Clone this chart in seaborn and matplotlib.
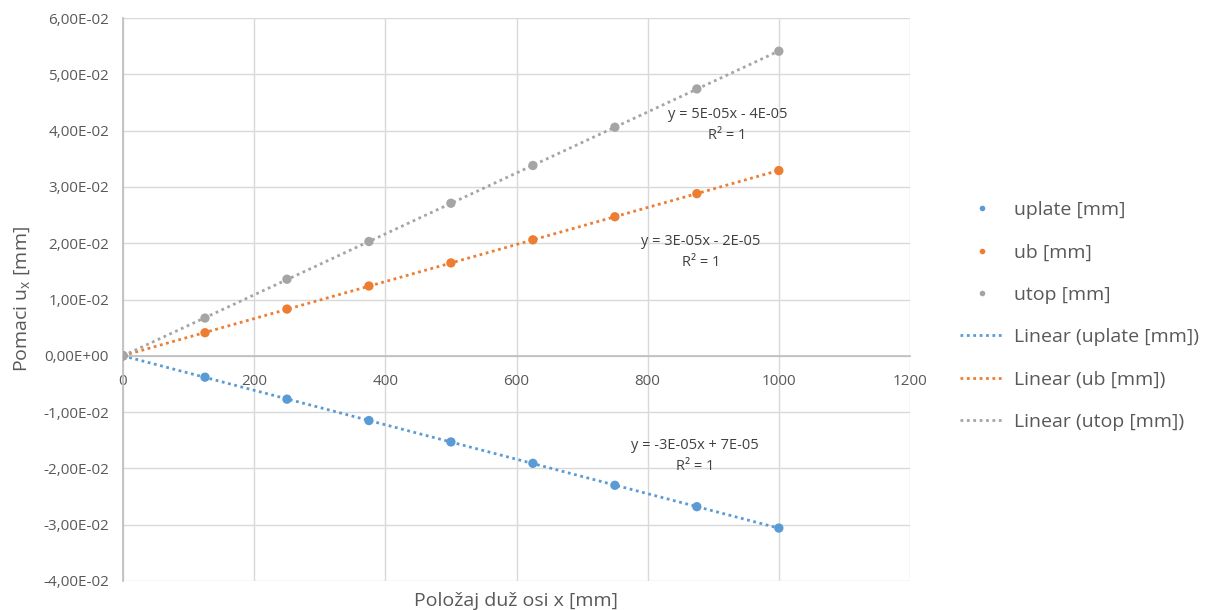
import numpy as np
import pandas as pd
import seaborn as sns
import matplotlib.pyplot as plt
from matplotlib.ticker import FuncFormatter, MultipleLocator

# Values
x_pos = [0, 125, 250, 375, 500, 625, 750, 875, 1000]
uplate = [0, -0.0038, -0.0077, -0.0115, -0.0153, -0.0191, -0.0230, -0.0268, -0.0306]
ub = [0, 0.0041, 0.0083, 0.0124, 0.0165, 0.0206, 0.0247, 0.0288, 0.0329]
utop = [0, 0.0067, 0.0136, 0.0203, 0.0271, 0.0338, 0.0406, 0.0474, 0.0541]

series_names = ["uplate [mm]", "ub [mm]", "utop [mm]"]
equations = ["y = -3E-05x + 7E-05\nR² = 1",
             "y = 3E-05x - 2E-05\nR² = 1",
             "y = 5E-05x - 4E-05\nR² = 1"]
eq_pos = [(872, -0.0178), (881, 0.0184), (922, 0.0410)]
colors = ["#5B9BD5", "#ED7D31", "#A5A5A5"]

df = pd.DataFrame({"x": x_pos, "uplate [mm]": uplate, "ub [mm]": ub, "utop [mm]": utop})
long_df = df.melt(id_vars="x", var_name="series", value_name="u")

sns.set_theme(style="white")
plt.rcParams['font.family'] = ['Open Sans', 'DejaVu Sans']

fig = plt.figure(figsize=(12.11, 6.10), dpi=100)
ax = fig.add_axes([123 / 1211, 1 - 581 / 610, (910 - 123) / 1211, (581 - 18) / 610])

sns.scatterplot(data=long_df, x="x", y="u", hue="series", hue_order=series_names,
                palette=colors, s=45, edgecolor="none", ax=ax, zorder=3)

for name, c in zip(series_names, colors):
    sns.regplot(data=df, x="x", y=name, scatter=False, ci=None, truncate=True, ax=ax,
                label=f"Linear ({name})",
                line_kws=dict(color=c, linestyle=(0, (1, 1.3)), linewidth=2))

for (tx, ty), eq in zip(eq_pos, equations):
    ax.text(tx, ty, eq, ha="center", va="center", fontsize=10.5, color="#404040",
            linespacing=1.5)

ax.set_xlim(0, 1200)
ax.set_ylim(-0.04, 0.06)
ax.xaxis.set_major_locator(MultipleLocator(200))
ax.yaxis.set_major_locator(MultipleLocator(0.01))
ax.grid(True, color="#D9D9D9", linewidth=1)
ax.set_axisbelow(True)

def sci_comma(v, pos):
    s = f"{v:.2E}".replace(".", ",")
    if abs(v) < 1e-12:
        s = "0,00E+00"
    return s

ax.yaxis.set_major_formatter(FuncFormatter(sci_comma))
ax.xaxis.set_major_formatter(FuncFormatter(lambda v, p: f"{v:.0f}"))

for side in ["top", "right"]:
    ax.spines[side].set_visible(False)
ax.spines["bottom"].set_position(("data", 0))
ax.spines["bottom"].set_color("#BFBFBF")
ax.spines["left"].set_color("#BFBFBF")
ax.tick_params(axis="both", labelsize=11, colors="#595959", length=0)
ax.tick_params(axis="y", pad=10)
ax.tick_params(axis="x", pad=13)

ax.set_xlabel("Položaj duž osi x [mm]", fontsize=14, color="#595959")
ax.xaxis.set_label_coords(0.5, -0.02, transform=ax.transAxes)
ax.set_ylabel("Pomaci u$_\\mathregular{x}$ [mm]", fontsize=14, color="#595959", labelpad=8)

handles, labels = ax.get_legend_handles_labels()
if ax.get_legend() is not None:
    ax.get_legend().remove()
order = [labels.index(n) for n in series_names] + [labels.index(f"Linear ({n})") for n in series_names]
leg = fig.legend([handles[i] for i in order], [labels[i] for i in order],
                 loc="center left", bbox_to_anchor=(942 / 1211, 1 - 316 / 610),
                 frameon=False, fontsize=14, labelspacing=1.25, handlelength=2.3,
                 markerscale=0.6, handletextpad=0.5)
for t in leg.get_texts():
    t.set_color("#595959")

fig.savefig("out.png", dpi=100)
